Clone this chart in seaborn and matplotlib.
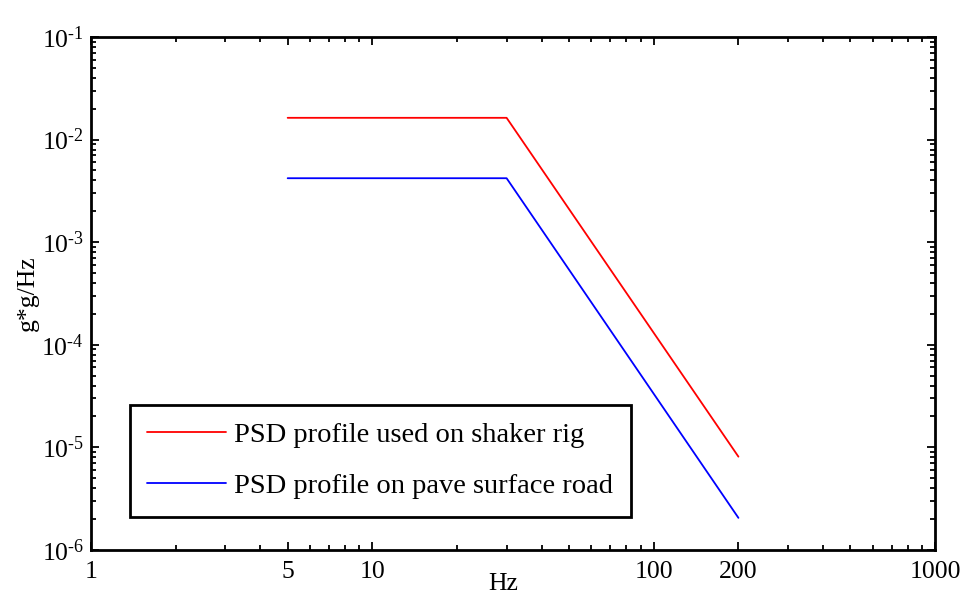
import math
import pandas as pd
import matplotlib
matplotlib.use('Agg')
import matplotlib.pyplot as plt
import seaborn as sns
from matplotlib.ticker import FixedLocator, LogLocator, NullFormatter, FuncFormatter

# Data
freq = [5, 30, 200]
rig_psd = [0.0163, 0.0163, 8.1e-6]
road_psd = [0.0042, 0.0042, 2.05e-6]
labels = ['PSD profile used on shaker rig', 'PSD profile on pave surface road']
x_ticks = [1, 5, 10, 100, 200, 1000]
y_ticks = [1e-6, 1e-5, 1e-4, 1e-3, 1e-2, 1e-1]

df = pd.DataFrame({
    'Hz': freq * 2,
    'psd': rig_psd + road_psd,
    'profile': [labels[0]] * 3 + [labels[1]] * 3,
})

sns.set_style('ticks')
plt.rcParams['font.family'] = ['Liberation Serif', 'DejaVu Serif']
plt.rcParams['mathtext.fontset'] = 'custom'
plt.rcParams['mathtext.rm'] = 'Liberation Serif'
plt.rcParams['mathtext.it'] = 'Liberation Serif'
plt.rcParams['xtick.direction'] = 'in'
plt.rcParams['ytick.direction'] = 'in'
plt.rcParams['text.color'] = 'black'
plt.rcParams['axes.labelcolor'] = 'black'

fig = plt.figure(figsize=(9.68, 5.97), dpi=100)
ax = fig.add_axes([0.094, 0.079, 0.872, 0.859])

sns.lineplot(data=df, x='Hz', y='psd', hue='profile', palette=['#ff0000', '#0000ff'],
             linewidth=1.3, ax=ax)

ax.set_xscale('log')
ax.set_yscale('log')
ax.set_xlim(1, 1000)
ax.set_ylim(1e-6, 1e-1)


def exp_label(v, p):
    e = int(round(math.log10(v)))
    return r'$\mathregular{10^{\text{%d}}}$' % e


ax.xaxis.set_major_locator(FixedLocator(x_ticks))
ax.xaxis.set_major_formatter(FuncFormatter(lambda v, p: '%g' % v))
ax.xaxis.set_minor_locator(LogLocator(base=10, subs=range(2, 10)))
ax.xaxis.set_minor_formatter(NullFormatter())
ax.yaxis.set_major_locator(FixedLocator(y_ticks))
ax.yaxis.set_major_formatter(FuncFormatter(exp_label))
ax.yaxis.set_minor_locator(LogLocator(base=10, subs=range(2, 10)))
ax.yaxis.set_minor_formatter(NullFormatter())

ax.tick_params(which='both', top=True, right=True, labelsize=18.5, width=1.3, colors='black')
ax.tick_params(which='major', length=5.5)
ax.tick_params(which='minor', length=3.5)
ax.tick_params(axis='x', which='major', pad=8)
ax.tick_params(axis='y', which='major', pad=5)
for s in ax.spines.values():
    s.set_linewidth(2)
    s.set_color('black')

ax.set_xlabel('Hz', fontsize=18.5)
ax.xaxis.set_label_coords(0.488, -0.046)
ax.set_ylabel('g*g/Hz', fontsize=18.5)
ax.yaxis.set_label_coords(-0.062, 0.5)

leg = ax.legend(loc='lower left', bbox_to_anchor=(0.046, 0.064), borderaxespad=0,
                fontsize=20.5, frameon=True, fancybox=False, handlelength=2.75,
                labelspacing=0.88, borderpad=0.62, handletextpad=0.3)
leg.get_frame().set_edgecolor('black')
leg.get_frame().set_linewidth(2)
leg.get_frame().set_alpha(1)
leg.set_title(None)
for t in leg.get_texts():
    t.set_color('black')

plt.savefig('out.png', dpi=100)
